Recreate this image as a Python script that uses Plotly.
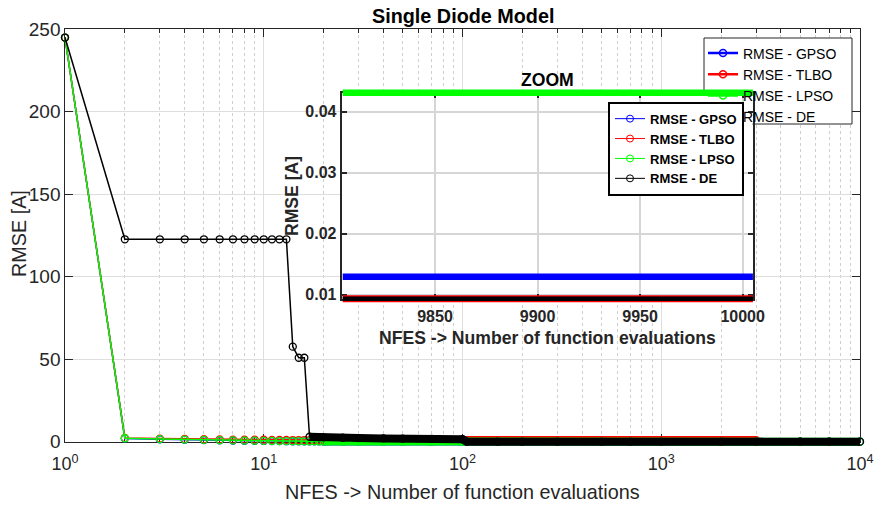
import plotly.graph_objects as go

# ---------------- data ----------------
SERIES = ["RMSE - GPSO", "RMSE - TLBO", "RMSE - LPSO", "RMSE - DE"]
COLORS = ["#0000ff", "#ff0000", "#00ff00", "#000000"]

NFES_HEAD = list(range(1, 21))
NFES_TAIL = [25, 30, 40, 50, 70, 100, 105, 150, 200, 300, 500, 700, 1000, 2000, 3000, 5000, 7000, 10000]
NFES_TAIL_TLBO = [25, 30, 40, 50, 70, 100, 105, 150, 200, 300, 500, 700, 1000, 2000, 3000]

GPSO_HEAD = [245, 2.0, 1.5, 1.2, 1.0, 0.8, 0.7, 0.6, 0.5, 0.45, 0.4, 0.35, 0.3, 0.28, 0.25, 0.22, 0.2, 0.18, 0.16, 0.15]
GPSO_TAIL = [0.12, 0.1, 0.08, 0.06, 0.04, 0.03, 0.03, 0.02, 0.02, 0.015, 0.013, 0.013, 0.013, 0.013, 0.013, 0.013, 0.013, 0.013]
TLBO_HEAD = [245, 2.3, 1.9, 1.7, 1.5, 1.4, 1.3, 1.3, 1.2, 1.2, 1.1, 1.1, 1.1, 1.0, 1.0, 1.0, 1.0, 1.0, 1.0, 1.0]
TLBO_TAIL = [1.0, 1.0, 1.0, 1.0, 1.0, 1.0, 1.0, 1.0, 1.0, 1.0, 1.0, 1.0, 1.0, 1.0, 1.0]
LPSO_HEAD = [245, 2.1, 1.6, 1.3, 1.1, 0.9, 0.8, 0.7, 0.6, 0.5, 0.45, 0.4, 0.35, 0.3, 0.3, 0.25, 0.2, 0.2, 0.15, 0.15]
LPSO_TAIL = [0.1, 0.08, 0.06, 0.05, 0.045, 0.044, 0.043, 0.043, 0.043, 0.043, 0.043, 0.043, 0.043, 0.043, 0.043, 0.043, 0.043, 0.043]
DE_HEAD = [245, 122.7, 122.7, 122.7, 122.7, 122.7, 122.7, 122.7, 122.7, 122.7, 122.7, 122.7, 122.7,
           57.6, 50.9, 50.9, 3.0, 2.8, 2.7, 2.6]
DE_TAIL = [2.4, 2.2, 2.0, 1.9, 1.7, 1.5, 0.01, 0.0093, 0.0093, 0.0093, 0.0093, 0.0093, 0.0093, 0.0093, 0.0093, 0.0093, 0.0093, 0.0093]

INSET_NFES = [9805, 9855, 9905, 9955, 10005]
INSET_GPSO = [0.0129, 0.0129, 0.0129, 0.0129, 0.0129]
INSET_TLBO = [0.0093, 0.0093, 0.0093, 0.0093, 0.0093]
INSET_LPSO = [0.0431, 0.0431, 0.0431, 0.0431, 0.0431]
INSET_DE = [0.0093, 0.0093, 0.0093, 0.0093, 0.0093]

MAIN_XTICKS = [1, 10, 100, 1000, 10000]
MAIN_XTICKTEXT = ["10<sup>0</sup>", "10<sup>1</sup>", "10<sup>2</sup>", "10<sup>3</sup>", "10<sup>4</sup>"]
MAIN_YRANGE = [0, 250]
INSET_XTICKS = [9850, 9900, 9950, 10000]
INSET_XTICKTEXT = ["9850", "9900", "9950", "10000"]
INSET_YTICKS = [0.01, 0.02, 0.03, 0.04]
INSET_XRANGE = [9804.5, 10004.9]
INSET_YRANGE = [0.00931, 0.04307]

# ---------------- geometry (pixels) ----------------
W, H = 876, 506
PL, PR, PT, PB = 55, 870, 24, 452          # plotting region
PW, PH = PR - PL, PB - PT
MX0, MX1, MY0, MY1 = 65, 860, 29.3, 441.7  # main axes box
IX0, IX1, IY0, IY1 = 341.7, 752.7, 93.0, 298.7  # inset axes box
EXT = 14
LEG1_BOX = (704, 852, 38, 124)     # main legend frame (px)

def xdom(a, b):
    return [(a - PL) / PW, (b - PL) / PW]

def ydom(top, bot):
    return [(PB - bot) / PH, (PB - top) / PH]

def px(xp):
    return (xp - PL) / PW

def py(yp):
    return (PB - yp) / PH

# main data axes (whole plotting region, same scale as the visible main axes)
kx = (MX1 - MX0) / 4.0
ky = (MY1 - MY0) / (MAIN_YRANGE[1] - MAIN_YRANGE[0])
X2RANGE = [0 - (MX0 - PL) / kx, 4 + (PR - MX1) / kx]
Y2RANGE = [MAIN_YRANGE[0] - (PB - MY1) / ky, MAIN_YRANGE[1] + (MY0 - PT) / ky]

# inset data axes (slightly larger than the inset box, same scale)
ikx = (IX1 - IX0) / (INSET_XRANGE[1] - INSET_XRANGE[0])
iky = (IY1 - IY0) / (INSET_YRANGE[1] - INSET_YRANGE[0])
X4RANGE = [INSET_XRANGE[0] - EXT / ikx, INSET_XRANGE[1] + EXT / ikx]
Y4RANGE = [INSET_YRANGE[0] - EXT / iky, INSET_YRANGE[1] + EXT / iky]

def x2val(xp):
    return 10 ** ((xp - MX0) / kx)

def y2val(yp):
    return (MY1 - yp) / ky

FONT = "Liberation Sans, Arial, Helvetica, sans-serif"
AX = "#262626"
TXT = "#262626"

fig = go.Figure()

# dummy traces so the visible axis pairs exist
fig.add_trace(go.Scatter(x=[None], y=[None], xaxis="x", yaxis="y", showlegend=False, hoverinfo="skip"))
fig.add_trace(go.Scatter(x=[None], y=[None], xaxis="x", yaxis="y5", showlegend=False, hoverinfo="skip"))
fig.add_trace(go.Scatter(x=[None], y=[None], xaxis="x3", yaxis="y3", showlegend=False, hoverinfo="skip"))

main_data = [
    (NFES_HEAD + NFES_TAIL, GPSO_HEAD + GPSO_TAIL, 20),
    (NFES_HEAD + NFES_TAIL_TLBO, TLBO_HEAD + TLBO_TAIL, 20),
    (NFES_HEAD + NFES_TAIL, LPSO_HEAD + LPSO_TAIL, 20),
    (NFES_HEAD + NFES_TAIL, DE_HEAD + DE_TAIL, 17),
]

for name, color, (xs, ys, band_from) in zip(SERIES, COLORS, main_data):
    bx = [a for a in xs if a >= band_from]
    by = [b for a, b in zip(xs, ys) if a >= band_from]
    fig.add_trace(go.Scatter(x=bx, y=by, mode="lines", line=dict(color=color, width=8),
                             xaxis="x2", yaxis="y2", showlegend=False, hoverinfo="skip"))
    fig.add_trace(go.Scatter(x=xs, y=ys, mode="lines+markers", name=name,
                             line=dict(color=color, width=1.5),
                             marker=dict(symbol="circle-open", size=7, color=color, line=dict(width=1.3, color=color)),
                             xaxis="x2", yaxis="y2", showlegend=False))

# main legend entries
for name, color in zip(SERIES, COLORS):
    fig.add_trace(go.Scatter(x=[None], y=[None], mode="lines+markers", name=name,
                             line=dict(color=color, width=2.5),
                             marker=dict(symbol="circle-open", size=7, color=color, line=dict(width=1.5, color=color)),
                             xaxis="x2", yaxis="y2", legend="legend"))

# inset bands
inset_data = [(INSET_GPSO, COLORS[0], 6.5), (INSET_TLBO, COLORS[1], 7), (INSET_LPSO, COLORS[2], 6.5), (INSET_DE, COLORS[3], 4.5)]
for ys, color, w in inset_data:
    fig.add_trace(go.Scatter(x=INSET_NFES, y=ys, mode="lines", line=dict(color=color, width=w),
                             xaxis="x4", yaxis="y4", showlegend=False, hoverinfo="skip"))

# inset legend entries
for name, color in zip(SERIES, COLORS):
    fig.add_trace(go.Scatter(x=[None], y=[None], mode="lines+markers", name=name,
                             line=dict(color=color, width=1),
                             marker=dict(symbol="circle-open", size=7, color=color, line=dict(width=1, color=color)),
                             xaxis="x4", yaxis="y4", legend="legend2"))

MINOR = [m * 10 ** e for e in range(0, 4) for m in range(2, 10)]

tickfont_x = dict(family=FONT, size=18, color=TXT)
tickfont_y = dict(family=FONT, size=19, color=TXT)
tickfont_inset = dict(family=FONT, size=16, color=TXT, weight="bold")

fig.update_layout(
    width=W, height=H, autosize=False,
    margin=dict(l=PL, r=W - PR, t=PT, b=H - PB, pad=0, autoexpand=False),
    paper_bgcolor="white", plot_bgcolor="rgba(0,0,0,0)",
    showlegend=True,
    xaxis=dict(type="log", range=[0, 4], domain=xdom(MX0, MX1), anchor="y", automargin=False,
               showline=True, linecolor=AX, linewidth=1, mirror="ticks",
               ticks="inside", ticklen=8, tickwidth=1, tickcolor=AX,
               tickmode="array", tickvals=MAIN_XTICKS, ticktext=MAIN_XTICKTEXT, tickfont=tickfont_x,
               ticklabelstandoff=6,
               showgrid=True, gridcolor="#dedede", gridwidth=1, zeroline=False,
               minor=dict(tickmode="array", tickvals=MINOR, ticks="inside", ticklen=4, tickcolor=AX,
                          showgrid=True, gridcolor="#cfcfcf", griddash="dot", gridwidth=1),
               fixedrange=True),
    yaxis=dict(range=MAIN_YRANGE, domain=ydom(MY0, MY1), anchor="x", automargin=False,
               showline=True, linecolor=AX, linewidth=1, mirror="ticks",
               ticks="inside", ticklen=8, tickwidth=1, tickcolor=AX,
               tick0=0, dtick=50, showticklabels=False,
               showgrid=True, gridcolor="#dedede", gridwidth=1, zeroline=False, fixedrange=True),
    # label-only copy of the main y axis, placed so the labels sit close to the axis line
    yaxis5=dict(range=MAIN_YRANGE, overlaying="y", anchor="free", position=px(MX0 - 4.5), side="left",
                automargin=False, showline=False, ticks="", tick0=0, dtick=50, tickfont=tickfont_y,
                showgrid=False, zeroline=False, fixedrange=True),
    xaxis2=dict(type="log", range=X2RANGE, domain=[0, 1], anchor="y2", visible=False, fixedrange=True, automargin=False),
    yaxis2=dict(range=Y2RANGE, domain=[0, 1], anchor="x2", visible=False, fixedrange=True, automargin=False),
    xaxis3=dict(range=INSET_XRANGE, domain=xdom(IX0, IX1), anchor="y3", automargin=False,
                showline=True, linecolor=AX, linewidth=2, mirror="ticks",
                ticks="inside", ticklen=5, tickwidth=1.5, tickcolor=AX,
                tickmode="array", tickvals=INSET_XTICKS, ticktext=INSET_XTICKTEXT, tickfont=tickfont_inset,
                ticklabelstandoff=2,
                showgrid=True, gridcolor="#d6d6d6", gridwidth=1.5, zeroline=False, fixedrange=True),
    yaxis3=dict(range=INSET_YRANGE, domain=ydom(IY0, IY1), anchor="x3", automargin=False,
                showline=True, linecolor=AX, linewidth=2, mirror="ticks",
                ticks="inside", ticklen=5, tickwidth=1.5, tickcolor=AX,
                tickmode="array", tickvals=INSET_YTICKS, tickformat=".2f", tickfont=tickfont_inset,
                showgrid=True, gridcolor="#d6d6d6", gridwidth=1.5, zeroline=False, fixedrange=True),
    xaxis4=dict(range=X4RANGE, domain=xdom(IX0 - EXT, IX1 + EXT), anchor="y4", visible=False, fixedrange=True, automargin=False),
    yaxis4=dict(range=Y4RANGE, domain=ydom(IY0 - EXT, IY1 + EXT), anchor="x4", visible=False, fixedrange=True, automargin=False),
    legend=dict(x=px(LEG1_BOX[0] - 1), y=py(37.5), xanchor="left", yanchor="top",
                bgcolor="rgba(0,0,0,0)", borderwidth=0,
                font=dict(family=FONT, size=14, color="#000000"), itemwidth=30, tracegroupgap=0),
    legend2=dict(x=px(608), y=py(101.7), xanchor="left", yanchor="top",
                 bgcolor="white", bordercolor="#000000", borderwidth=2,
                 font=dict(family=FONT, size=13, color="#000000", weight="bold"), itemwidth=30, tracegroupgap=0),
    shapes=[
        # main legend frame: lives in the main data layer, so the inset covers it
        dict(type="rect", xref="x2", yref="y2",
             x0=x2val(LEG1_BOX[0]), x1=x2val(LEG1_BOX[1]), y0=y2val(LEG1_BOX[3]), y1=y2val(LEG1_BOX[2]),
             fillcolor="white", line=dict(color=AX, width=1), layer="below"),
        # inset white background
        dict(type="rect", xref="x3", yref="y3", x0=INSET_XRANGE[0], x1=INSET_XRANGE[1],
             y0=INSET_YRANGE[0], y1=INSET_YRANGE[1], fillcolor="white", line=dict(width=0), layer="below"),
    ],
    annotations=[
        dict(text="<b>Single Diode Model</b>", x=px(462.5), y=py(15.5), xref="paper", yref="paper",
             xanchor="center", yanchor="middle", showarrow=False, font=dict(family=FONT, size=19.8, color="#000000")),
        dict(text="NFES -> Number of function evaluations", x=px(462.5), y=py(492), xref="paper", yref="paper",
             xanchor="center", yanchor="middle", showarrow=False, font=dict(family=FONT, size=19.8, color=TXT)),
        dict(text="RMSE [A]", x=px(19), y=py(234), xref="paper", yref="paper", textangle=-90,
             xanchor="center", yanchor="middle", showarrow=False, font=dict(family=FONT, size=19.8, color=TXT)),
        dict(text="<b>ZOOM</b>", x=px(547.2), y=py(80), xref="paper", yref="paper",
             xanchor="center", yanchor="middle", showarrow=False, font=dict(family=FONT, size=17.6, color="#000000")),
        dict(text="<b>NFES -> Number of function evaluations</b>", x=px(547.2), y=py(337.5), xref="paper", yref="paper",
             xanchor="center", yanchor="middle", showarrow=False, font=dict(family=FONT, size=17.6, color=TXT)),
        dict(text="<b>RMSE [A]</b>", x=px(292), y=py(196), xref="paper", yref="paper", textangle=-90,
             xanchor="center", yanchor="middle", showarrow=False, font=dict(family=FONT, size=17.6, color=TXT)),
    ],
)

fig.write_html("out.html")
